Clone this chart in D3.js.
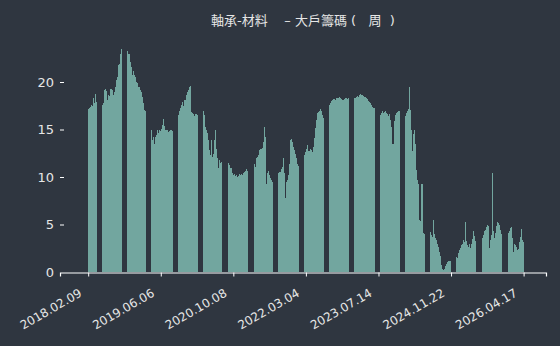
<!DOCTYPE html>
<html>
<head>
<meta charset="utf-8">
<script src="https://cdn.jsdelivr.net/npm/d3@7"></script>
<style>
  html, body { margin: 0; padding: 0; background: #2f3640; }
  svg { display: block; }
</style>
</head>
<body>
<svg id="chip-map" width="560" height="346"></svg>
<script>
// 標題
const title = "軸承-材料    – 大戶籌碼 (   周  )"

// x 軸刻度標籤（每 70 週一個）
const tickDates = ["2018.02.09", "2019.06.06", "2020.10.08", "2022.03.04", "2023.07.14", "2024.11.22", "2026.04.17"]
const tickStep = 70

// y 軸刻度
const yTicks = [0, 5, 10, 15, 20]

// 每週大戶持股比例（%），null 為缺值
const holders = [
  17.2, 17.3, 17.4, 17.6, 17.5, 18.3, 17.8, 18.7, 17.9,
  null, null, null, null, null,
  17.6, 17.8, 19.2, 19.3, 19.1, 18.1, 18.6, 18.5, 19.3, 19.2, 18.6, 19.0, 19.5, 20.2, 20.5, 21.8, 21.9, 23.0, 23.5,
  null, null, null, null, null,
  23.3, 23.0, 22.9, 22.1, 21.6, 20.7, 21.2, 20.7, 20.5, 20.0, 19.9, 19.5, 19.2, 19.0, 18.4, 17.8, 17.1, 16.9,
  null, null, null, null, null,
  14.9, 13.9, 14.2, 13.5, 14.2, 14.4, 14.9, 14.6, 14.9, 14.8, 15.1, 15.5, 16.1, 15.4, 15.0, 14.9, 14.7, 14.8, 14.9, 14.9, 14.8,
  null, null, null, null, null,
  16.5, 16.9, 17.3, 17.6, 17.9, 17.5, 18.1, 18.1, 18.6, 19.0, 19.2, 19.5, 19.6, 16.8, 16.7, 16.6, 16.4, 16.6, 16.5,
  null, null, null, null, null,
  17.0, 16.5, 15.3, 14.9, 14.6, 13.9, 12.8, 12.3, 13.9, 12.1, 12.4, 13.9, 14.9, 13.0, 12.0, 10.9, 11.8, 11.5, 11.6,
  null, null, null, null, null,
  11.5, 11.3, 11.0, 10.9, 10.4, 10.2, 10.3, 10.1, 10.2, 10.0, 10.1, 10.3, 10.2, 10.3, 10.2, 10.4, 10.5, 10.6, 10.8, 10.6,
  null, null, null, null, null,
  11.4, 11.1, 12.0, 12.1, 12.3, 12.8, 12.9, 13.0, 13.1, 13.7, 15.3, 14.2, 9.3, 10.4, 10.6, 10.2, 9.9, 9.7, 9.5,
  null, null, null, null, null,
  10.4, 10.5, 10.8, 11.1, 12.0, 10.4, 7.8, 9.5, 9.7, 10.2, 11.4, 13.9, 14.0, 13.7, 13.2, 12.8, 12.4, 12.0, 11.4, 11.2,
  null, null, null, null, null,
  12.3, 12.6, 13.0, 13.4, 12.7, 13.0, 12.8, 12.6, 13.2, 14.1, 15.2, 16.0, 16.7, 16.8, 17.0, 17.2, 16.9, 16.5, 16.2,
  null, null, null, null, null,
  17.6, 17.8, 18.0, 18.1, 18.2, 18.2, 18.1, 18.3, 18.3, 18.4, 18.3, 18.2, 18.1, 18.1, 18.2, 18.3, 18.3, 18.2, 18.3,
  null, null, null, null, null,
  18.3, 18.3, 18.4, 18.5, 18.4, 18.6, 18.7, 18.6, 18.6, 18.5, 18.4, 18.3, 18.2, 18.0, 17.9, 17.8, 17.6, 17.4, 17.3, 17.3,
  null, null, null, null, null,
  16.5, 16.7, 16.9, 16.7, 16.8, 16.9, 16.7, 16.6, 16.4, 16.6, 16.0, 15.3, 13.5, 15.9, 16.5, 16.7, 16.8, 16.9, 17.0,
  null, null, null, null, null,
  16.4, 16.7, 17.0, 17.2, 19.5, 17.1, 14.9, 12.7, 14.5, 14.9, 13.5, 10.7, 9.7, 9.3, 5.5, 5.4, 9.3, 4.1, 4.0,
  null, null, null, null, null,
  4.2, 3.9, 3.7, 5.5, 4.0, 3.6, 3.4, 3.0, 2.6, 2.1, 1.7, 0.7, 0.3, 0.2, 0.3, 0.6, 0.8, 1.1, 1.2, 1.2,
  null, null, null, null, null,
  1.6, 1.5, 2.0, 2.3, 2.5, 2.8, 2.9, 3.4, 3.2, 5.3, 3.3, 2.8, 2.6, 3.0, 2.5, 2.9, 3.5, 4.3, 3.8, 3.3,
  null, null, null, null, null,
  3.6, 3.9, 4.3, 4.4, 4.7, 4.9, 4.8, 2.5, 3.4, 3.9, 10.4, 4.3, 3.6, 4.1, 4.8, 5.3, 5.2, 4.9, 4.4, 4.0,
  null, null, null, null, null,
  4.1, 4.3, 4.6, 4.7, 3.6, 2.1, 3.0, 2.8, 2.6, 2.3, 2.4, 3.2, 3.7, 4.5, 3.4, 3.2
]

const drawChipMap = () => {
  const svg = d3.select("#chip-map")
  const config = {
    bg: "#2f3640",
    barColor: "#72a69f",
    textColor: "#e6e6e6",
    axisColor: "#ffffff",
  }
  const [left, right, top, bottom] = [60, 546, 82, 272]

  const n = holders.length
  // x 用週序號（留出左右邊距）
  const x = d3.scaleLinear()
    .domain([-27.2, n - 1 + 21.6])
    .range([left, right])
  const y = d3.scaleLinear()
    .domain([0, 20])
    .range([bottom, top])

  svg.append("rect")
    .attr("width", 560).attr("height", 346)
    .attr("fill", config.bg)

  const step = x(1) - x(0)
  const bars = holders.map((v, i) => ({ i: i, v: v })).filter(d => d.v !== null)

  // 柱子（crispEdges 讓相鄰柱子之間不出現細縫）
  svg.append("g")
    .attr("shape-rendering", "crispEdges")
    .selectAll("rect")
    .data(bars)
    .enter()
    .append("rect")
    .attr("x", d => x(d.i) - step / 2)
    .attr("width", step)
    .attr("y", d => y(d.v))
    .attr("height", d => y(0) - y(d.v))
    .attr("fill", config.barColor)

  // x 軸
  const tickIdx = tickDates.map((d, i) => i * tickStep)
  const xAxis = svg.append("g")
    .attr("transform", "translate(0," + (bottom + 0.5) + ")")
    .call(d3.axisBottom(x).tickValues(tickIdx).tickSize(4).tickPadding(5)
      .tickFormat((d, i) => tickDates[i]))
  xAxis.select(".domain").attr("stroke", config.axisColor).attr("stroke-width", 1.2)
  xAxis.selectAll(".tick line").attr("stroke", config.axisColor).attr("stroke-width", 1)
  xAxis.selectAll(".tick text")
    .attr("fill", config.textColor)
    .attr("font-family", "DejaVu Sans")
    .attr("font-size", 12)
    .attr("text-anchor", "end")
    .attr("dy", null)
    .attr("y", null)
    .attr("transform", "translate(-6,23) rotate(-30)")

  // y 軸（不畫軸線，刻度朝內）
  const yAxis = svg.append("g")
    .attr("transform", "translate(" + left + ",0)")
    .call(d3.axisLeft(y).tickValues(yTicks).tickSizeInner(-4).tickSizeOuter(0).tickPadding(6))
  yAxis.select(".domain").remove()
  yAxis.selectAll(".tick line").attr("stroke", config.axisColor)
  yAxis.selectAll(".tick").filter(d => d === 0).select("line").remove()
  yAxis.selectAll(".tick text")
    .attr("fill", config.textColor)
    .attr("font-family", "DejaVu Sans")
    .attr("font-size", 13)

  // 標題
  svg.append("text")
    .attr("x", (left + right) / 2)
    .attr("y", 24.5)
    .attr("text-anchor", "middle")
    .attr("fill", config.textColor)
    .attr("font-family", "'DejaVu Sans', 'Noto Sans CJK TC', sans-serif")
    .attr("font-size", 13)
    .style("white-space", "pre")
    .text(title)
}

drawChipMap()
</script>
</body>
</html>
